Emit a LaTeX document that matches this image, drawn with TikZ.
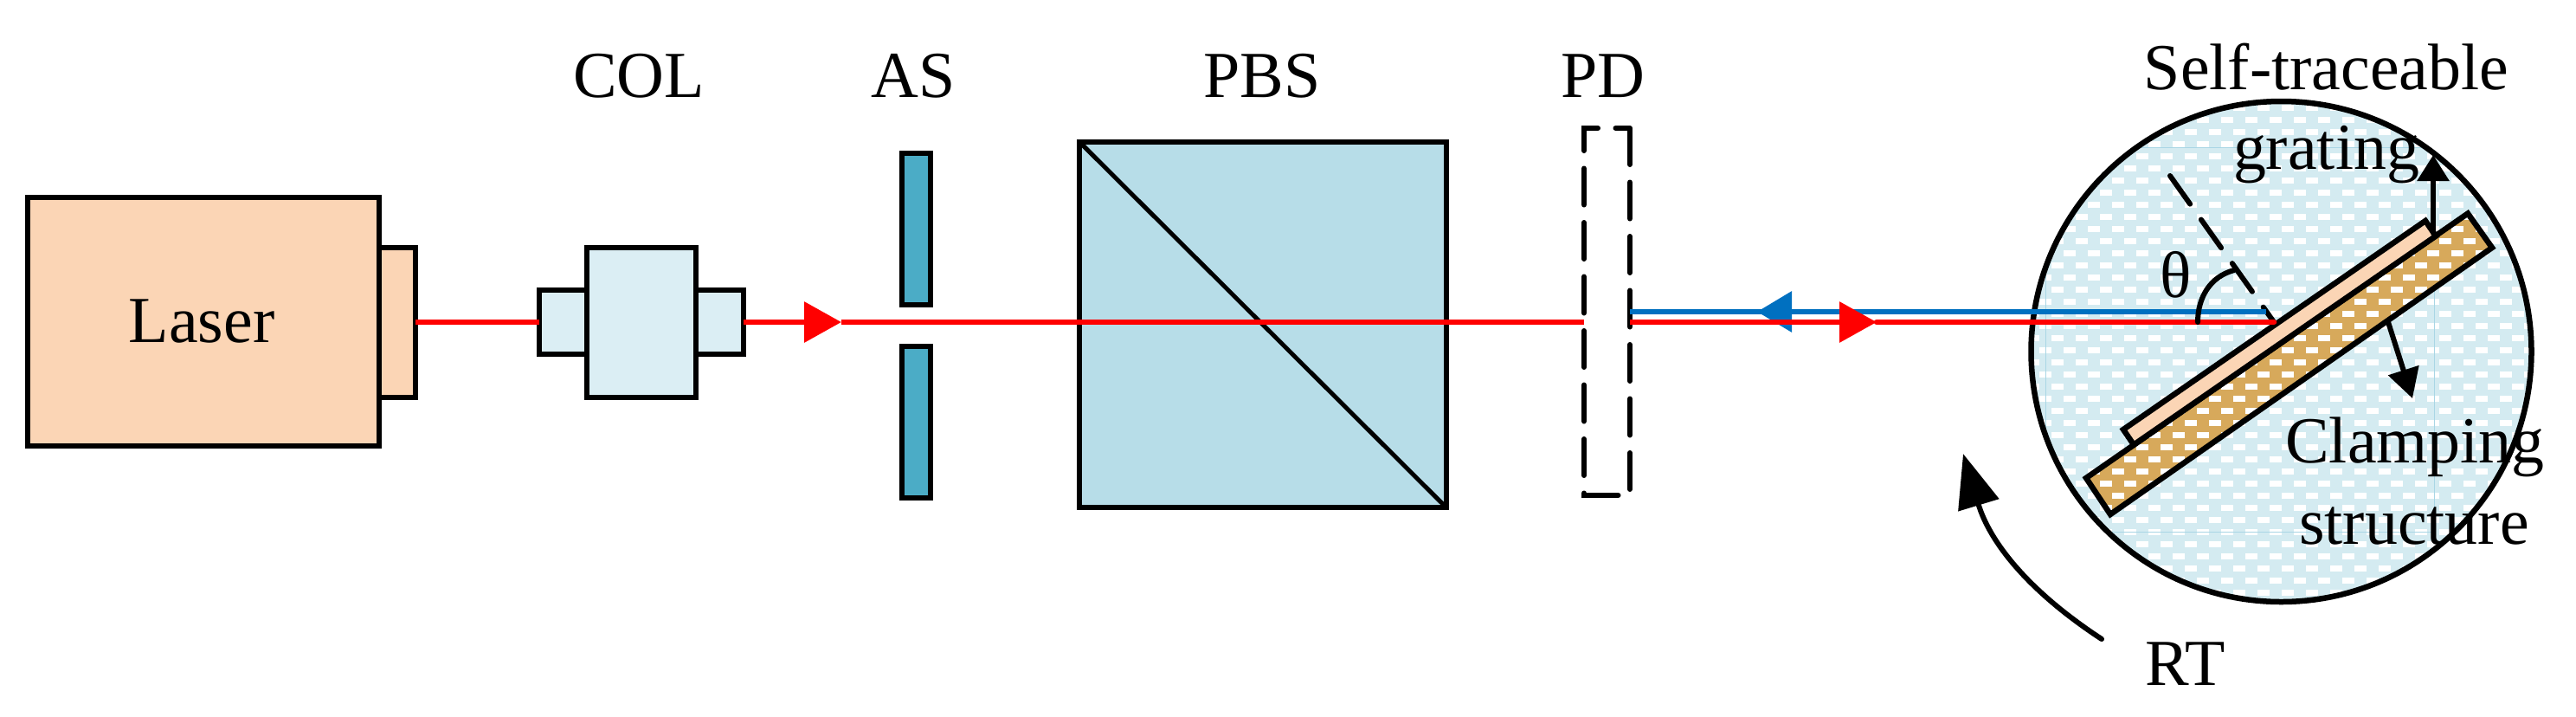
\documentclass[tikz,border=0pt]{standalone}
\usepackage{fontspec}
\setmainfont{Liberation Serif}
\usetikzlibrary{arrows.meta}
\definecolor{laserfill}{HTML}{FBD5B5}
\definecolor{colfill}{HTML}{DBEEF4}
\definecolor{asfill}{HTML}{4BACC6}
\definecolor{pbsfill}{HTML}{B7DDE8}
\definecolor{stagefill}{HTML}{D4EBF1}
\definecolor{clampfill}{HTML}{D7A95B}
\definecolor{bluebeam}{HTML}{0070C0}
\definecolor{faintline}{HTML}{A9D6E5}
\newcommand{\brickrows}{\foreach \rowk in {0,...,41} \foreach \colm in {0,...,21} \fill[white] ({23.42+.14*mod(\rowk,2)+.28*\colm},{7.197-.14*\rowk}) rectangle +(.14,-.07);}
\tikzset{
	optbox/.style={draw,line width=.06cm,inner sep=0,outer sep=0},
	caption/.style={font=\fontsize{21.6}{26}\selectfont,anchor=base,inner sep=0,outer sep=0},
	redbeam/.style={red,line width=.065cm},
	blubeam/.style={bluebeam,line width=.065cm},
	thinblack/.style={line width=.06cm,line cap=round},
	thickblack/.style={line width=.065cm},
}
\begin{document}
\begin{tikzpicture}
	\useasboundingbox (0,0) rectangle (29.76,8.27);
	\node[optbox,fill=laserfill,minimum width=4.06cm,minimum height=2.87cm] (laser) at (2.35,4.555) {};
	\node[optbox,fill=laserfill,minimum width=.42cm,minimum height=1.73cm] (head) at (4.59,4.55) {};
	\node[optbox,fill=colfill,minimum width=.55cm,minimum height=.74cm] (colleft) at (6.505,4.55) {};
	\node[optbox,fill=colfill,minimum width=.55cm,minimum height=.74cm] (colright) at (8.315,4.55) {};
	\node[optbox,fill=colfill,minimum width=1.26cm,minimum height=1.73cm] (colmid) at (7.41,4.55) {};
	\node[optbox,fill=asfill,minimum width=.33cm,minimum height=1.75cm] (astop) at (10.585,5.625) {};
	\node[optbox,fill=asfill,minimum width=.33cm,minimum height=1.75cm] (asbot) at (10.585,3.395) {};
	\node[optbox,fill=pbsfill,minimum width=4.236cm,minimum height=4.22cm] (pbs) at (14.59,4.52) {};
	\draw[line width=.05cm] (pbs.north west) -- (pbs.south east);
	\node[inner sep=0,outer sep=0,minimum width=.53cm,minimum height=4.24cm] (pd) at (18.565,4.67) {};
	\draw[optbox,dash pattern=on .42cm off .205cm,line cap=round] (pd.north east) -- (pd.south east) -- (pd.south west) -- (pd.north west) -- cycle;
	\node[fill=stagefill,circle,inner sep=0,outer sep=0,minimum size=5.78cm] (stage) at (26.355,4.21) {};
	\begin{scope}
		\clip (26.355,4.21) circle (2.89);
		\brickrows
		\draw[faintline,line width=.01cm] (23.63,2.13) rectangle (28.125,6.57);
	\end{scope}
	\draw[thickblack] (stage) circle (2.89);
	\coordinate (clampne) at (28.51,5.805);
	\coordinate (clampse) at (28.79,5.41);
	\coordinate (clampsw) at (24.38,2.33);
	\coordinate (clampnw) at (24.10,2.75);
	\fill[clampfill] (clampne) -- (clampse) -- (clampsw) -- (clampnw) -- cycle;
	\begin{scope}
		\clip (clampne) -- (clampse) -- (clampsw) -- (clampnw) -- cycle;
		\brickrows
	\end{scope}
	\draw[thickblack] (clampne) -- (clampse) -- (clampsw) -- (clampnw) -- cycle;
	\coordinate (stripne) at (28.02,5.72);
	\coordinate (stripse) at (28.14,5.544);
	\coordinate (stripsw) at (24.65,3.134);
	\coordinate (stripnw) at (24.53,3.31);
	\draw[thickblack,fill=laserfill] (stripne) -- (stripse) -- (stripsw) -- (stripnw) -- cycle;
	\coordinate (pdin) at (pd.west |- head.east);
	\coordinate (pdout) at (pd.east |- head.east);
	\coordinate (pdblue) at (pd.east |- 0,4.67);
	\coordinate (tipred) at (9.72,4.55);
	\coordinate (tipblue) at (20.30,4.67);
	\coordinate (tipback) at (21.68,4.55);
	\coordinate (hitblue) at (26.18,4.67);
	\coordinate (hitred) at (26.27,4.55);
	\coordinate (normalend) at (25.07,6.24);
	\draw[thinblack,dash pattern=on .40cm off .22cm] (normalend) -- (hitred);
	\draw[blubeam] (pdblue) -- (hitblue);
	\draw[blubeam,-{Triangle[length=.40cm,width=.46cm]}] (hitblue) -- (tipblue);
	\draw[redbeam] (head.east) -- (colleft.west);
	\draw[redbeam,-{Triangle[length=.43cm,width=.46cm]}] (colright.east) -- (tipred);
	\draw[redbeam] (tipred) -- (pdin);
	\draw[redbeam,-{Triangle[length=.43cm,width=.46cm]}] (pdout) -- (tipback);
	\draw[redbeam,line cap=round] (tipback) -- (hitred);
	\coordinate (thetastart) at (25.39,4.55);
	\coordinate (thetaend) at (25.81,5.15);
	\draw[thinblack] (thetastart) to[out=90,in=195] (thetaend);
	\node[caption] (laserlabel) at (2.33,4.32) {Laser};
	\node[caption] (collabel) at (7.38,7.15) {COL};
	\node[caption] (aslabel) at (10.55,7.15) {AS};
	\node[caption] (pbslabel) at (14.58,7.15) {PBS};
	\node[caption] (pdlabel) at (18.52,7.15) {PD};
	\node[caption] (selflabel) at (26.875,7.24) {Self-traceable};
	\node[caption] (gratinglabel) at (26.875,6.32) {grating};
	\node[caption] (clamplabel) at (27.9,2.93) {Clamping};
	\node[caption] (structlabel) at (27.89,1.99) {structure};
	\node[caption] (rtlabel) at (25.25,.36) {RT};
	\node[caption] (thetalabel) at (25.14,4.84) {θ};
	\coordinate (gratingfoot) at (28.11,5.58);
	\coordinate (gratingtip) at (28.11,6.48);
	\coordinate (clampfoot) at (27.59,4.55);
	\coordinate (clamptip) at (27.87,3.67);
	\coordinate (rtstart) at (24.28,.89);
	\coordinate (rttip) at (22.68,3.03);
	\draw[thinblack,-{Triangle[length=.30cm,width=.36cm]}] (gratingfoot) -- (gratingtip);
	\draw[thinblack,-{Triangle[length=.34cm,width=.36cm]}] (clampfoot) -- (clamptip);
	\draw[thinblack,-{Triangle[length=.62cm,width=.48cm]}] (rtstart) to[bend left=20] (rttip);
\end{tikzpicture}
\end{document}
